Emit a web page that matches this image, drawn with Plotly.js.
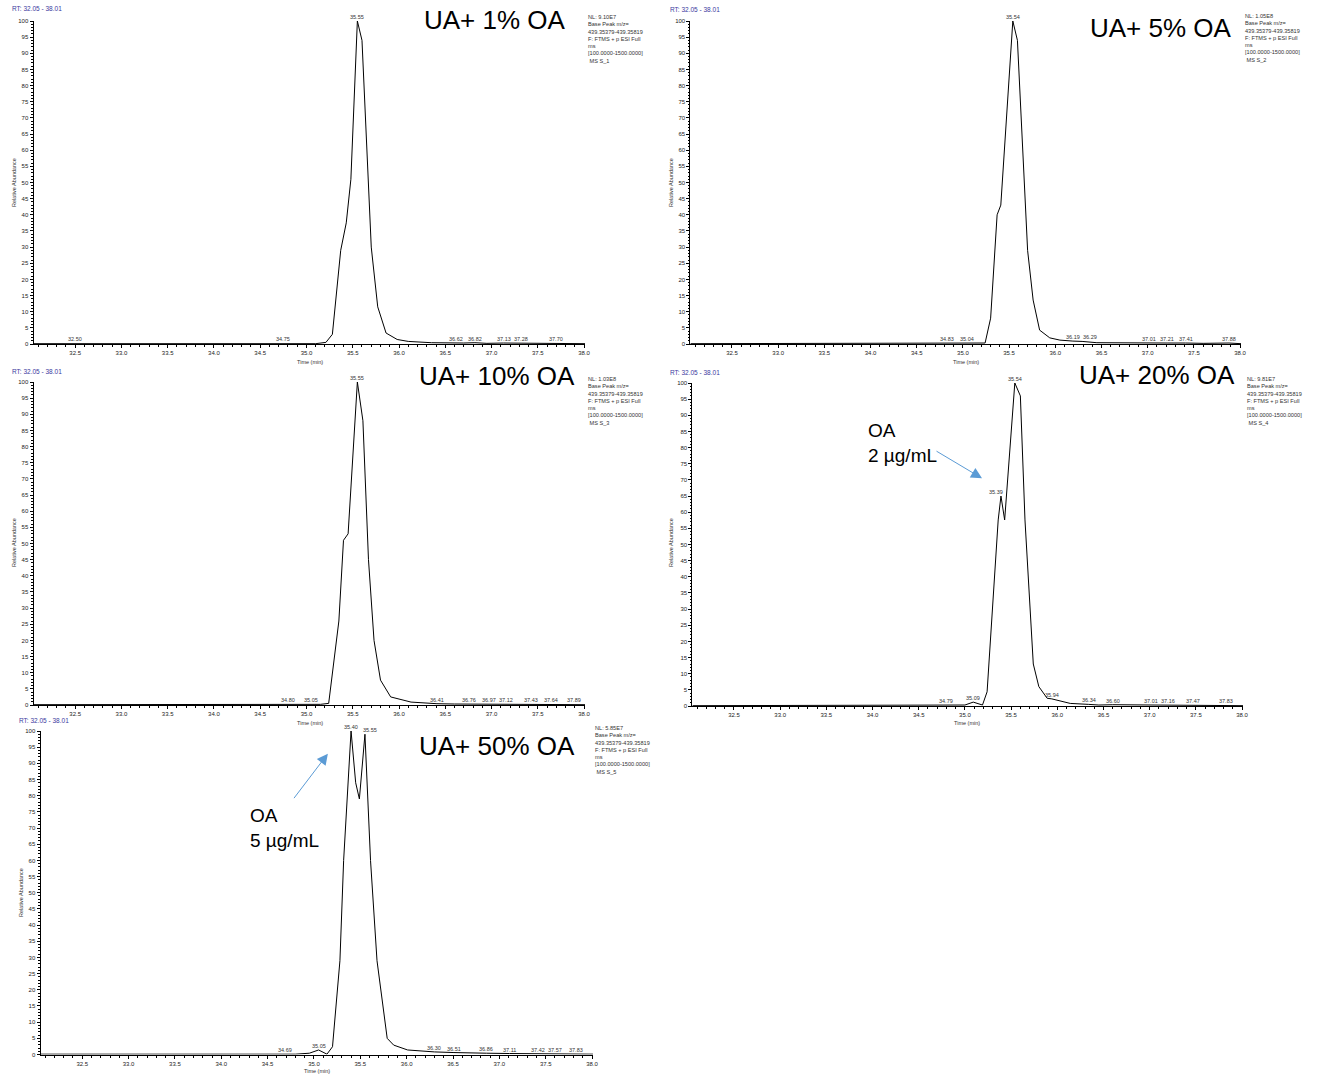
<!DOCTYPE html>
<html><head><meta charset="utf-8">
<script src="https://cdn.plot.ly/plotly-3.0.1.min.js"></script>
<style>html,body{margin:0;padding:0;background:#fff}#chart{width:1320px;height:1076px}</style>
</head><body><div id="chart"></div>
<script>
// ---------- DATA ----------
const time1 = [32.05, 32.40, 32.50, 32.60, 33.50, 34.50, 34.70, 34.75, 34.80, 35.10, 35.21, 35.28, 35.37, 35.43, 35.48, 35.55, 35.60, 35.67, 35.70, 35.77, 35.86, 35.98, 36.10, 36.35, 36.55, 36.62, 36.70, 36.82, 36.95, 37.13, 37.28, 37.45, 37.70, 37.85, 38.01];
const int1  = [0.1, 0.1, 0.3, 0.1, 0.1, 0.1, 0.1, 0.3, 0.1, 0.1, 0.5, 3, 29, 37.5, 51, 100, 94, 51, 30, 11.5, 3.4, 1.4, 0.8, 0.4, 0.3, 0.4, 0.3, 0.4, 0.2, 0.3, 0.3, 0.2, 0.3, 0.1, 0.1];

const time2 = [32.05, 34.70, 34.83, 34.95, 35.04, 35.15, 35.24, 35.30, 35.37, 35.41, 35.54, 35.59, 35.64, 35.70, 35.76, 35.83, 35.94, 36.05, 36.19, 36.29, 36.45, 36.70, 37.01, 37.21, 37.41, 37.60, 37.88, 38.01];
const int2  = [0.1, 0.1, 0.3, 0.1, 0.3, 0.1, 0.3, 8, 40, 43, 100, 94, 66, 29, 13.6, 4.3, 1.9, 1.2, 0.9, 0.8, 0.4, 0.3, 0.3, 0.3, 0.3, 0.2, 0.3, 0.1];

const time3 = [32.05, 34.70, 34.80, 34.90, 35.05, 35.15, 35.24, 35.35, 35.40, 35.45, 35.55, 35.61, 35.67, 35.73, 35.80, 35.91, 36.13, 36.41, 36.60, 36.76, 36.97, 37.12, 37.43, 37.64, 37.89, 38.01];
const int3  = [0.1, 0.1, 0.3, 0.1, 0.3, 0.2, 0.5, 26, 51, 53, 100, 88, 45, 20, 7.7, 2.5, 0.9, 0.4, 0.3, 0.3, 0.3, 0.3, 0.3, 0.3, 0.3, 0.1];

const time4 = [32.05, 34.70, 34.79, 34.90, 35.00, 35.09, 35.15, 35.19, 35.24, 35.31, 35.36, 35.39, 35.43, 35.54, 35.60, 35.65, 35.74, 35.80, 35.89, 35.94, 35.99, 36.14, 36.34, 36.45, 36.60, 37.01, 37.16, 37.47, 37.83, 38.01];
const int4  = [0.1, 0.1, 0.3, 0.1, 0.3, 1.2, 0.8, 0.3, 4.4, 37, 57.6, 65, 57.6, 100, 96, 57.6, 13, 6, 2.4, 2.2, 1.8, 0.8, 0.5, 0.3, 0.4, 0.3, 0.3, 0.3, 0.3, 0.1];

const time5 = [32.05, 34.60, 34.69, 34.80, 34.95, 35.05, 35.14, 35.20, 35.28, 35.32, 35.40, 35.45, 35.49, 35.55, 35.61, 35.68, 35.79, 35.86, 36.01, 36.22, 36.30, 36.51, 36.70, 36.86, 37.11, 37.42, 37.57, 37.83, 38.01];
const int5  = [0.1, 0.1, 0.3, 0.1, 0.4, 1.4, 0.1, 2.4, 29, 60, 100, 84, 79, 99, 60, 29, 5, 2.9, 1.4, 0.9, 0.8, 0.6, 0.4, 0.4, 0.3, 0.3, 0.3, 0.3, 0.1];

// peak retention-time labels (apex labels listed separately)
const peaks1 = [32.50, 34.75, 36.62, 36.82, 37.13, 37.28, 37.70];
const peaks2 = [34.83, 35.04, 36.19, 36.29, 37.01, 37.21, 37.41, 37.88];
const peaks3 = [34.80, 35.05, 36.41, 36.76, 36.97, 37.12, 37.43, 37.64, 37.89];
const peaks4 = [34.79, 35.09, 35.94, 36.34, 36.60, 37.01, 37.16, 37.47, 37.83];
const peaks5 = [34.69, 35.05, 36.30, 36.51, 36.86, 37.11, 37.42, 37.57, 37.83];
const apex1 = [35.55];
const apex2 = [35.54];
const apex3 = [35.55];
const apex4 = [35.39, 35.54];
const apex5 = [35.40, 35.55];

const sampleTitles = ['UA+ 1% OA', 'UA+ 5% OA', 'UA+ 10% OA', 'UA+ 20% OA', 'UA+ 50% OA'];
const nlValues = ['9.10E7', '1.05E8', '1.03E8', '9.81E7', '5.85E7'];
const sampleIds = ['MS S_1', 'MS S_2', 'MS S_3', 'MS S_4', 'MS S_5'];
const rtRange = [32.05, 38.01];
const xTicks = [32.5, 33.0, 33.5, 34.0, 34.5, 35.0, 35.5, 36.0, 36.5, 37.0, 37.5, 38.0];
const yTicks = [0, 5, 10, 15, 20, 25, 30, 35, 40, 45, 50, 55, 60, 65, 70, 75, 80, 85, 90, 95, 100];
const oaNotes = ['OA<br>2 µg/mL', 'OA<br>5 µg/mL'];

// ---------- LAYOUT ----------
const W = 1320, H = 1076;
const px = x => x / W, py = y => 1 - y / H;
const FONT = 'Liberation Sans, Arial, sans-serif';

const times = [time1, time2, time3, time4, time5];
const ints = [int1, int2, int3, int4, int5];
const peaks = [peaks1, peaks2, peaks3, peaks4, peaks5];
const apexes = [apex1, apex2, apex3, apex4, apex5];
const apexShift = [[0], [0], [0], [-5, 0], [0, 5]];

// pixel geometry of each plot area
const geom = [
  {l: 33.5, r: 585, t: 21, b: 344, title: [495, 20], info: [586, 12], rt: [10, 8], ylab: [14, 183], xlab: [310, 362]},
  {l: 690.4, r: 1241, t: 21, b: 344, title: [1161, 28], info: [1243, 11], rt: [668, 10], ylab: [671, 183], xlab: [966, 362]},
  {l: 33.5, r: 585, t: 382, b: 705, title: [497, 376], info: [586, 374], rt: [10, 371], ylab: [14, 543], xlab: [310, 723]},
  {l: 692.4, r: 1243, t: 383, b: 706, title: [1157, 375], info: [1245, 374], rt: [668, 372], ylab: [671, 543], xlab: [967, 723]},
  {l: 40.5, r: 593, t: 731, b: 1054.5, title: [497, 746], info: [593, 723], rt: [17, 720], ylab: [21, 892], xlab: [317, 1071]}
];

function interp(xs, ys, x) {
  for (let i = 0; i < xs.length - 1; i++) {
    if (x >= xs[i] && x <= xs[i + 1]) {
      const f = (x - xs[i]) / (xs[i + 1] - xs[i]);
      return ys[i] + f * (ys[i + 1] - ys[i]);
    }
  }
  return 0;
}

const data = [];
const layout = {
  width: W, height: H,
  margin: {l: 0, r: 0, t: 0, b: 0},
  paper_bgcolor: '#fff', plot_bgcolor: 'rgba(0,0,0,0)',
  showlegend: false,
  font: {family: FONT, color: '#000'},
  annotations: []
};

geom.forEach((g, i) => {
  const n = i === 0 ? '' : String(i + 1);
  data.push({
    type: 'scatter', mode: 'lines',
    x: times[i], y: ints[i],
    xaxis: 'x' + n, yaxis: 'y' + n,
    line: {color: '#000', width: 1},
    hoverinfo: 'skip'
  });
  layout['xaxis' + n] = {
    domain: [px(g.l), px(g.r)], range: rtRange, anchor: 'y' + n,
    showline: true, linecolor: '#000', linewidth: 1,
    ticks: 'outside', ticklen: 3, tickwidth: 1, tickcolor: '#000',
    tickmode: 'array', tickvals: xTicks, ticktext: xTicks.map(v => v.toFixed(1)),
    tickfont: {size: 6, color: '#222', family: FONT},
    showgrid: false, zeroline: false, fixedrange: true,
    minor: {dtick: 0.1, tick0: 32.0, ticks: 'outside', ticklen: 2, tickcolor: '#000', showgrid: false}
  };
  layout['yaxis' + n] = {
    domain: [py(g.b), py(g.t)], range: [0, 100], anchor: 'x' + n,
    showline: true, linecolor: '#000', linewidth: 1,
    ticks: 'outside', ticklen: 3, tickwidth: 1, tickcolor: '#000',
    tickmode: 'array', tickvals: yTicks,
    tickfont: {size: 6, color: '#222', family: FONT},
    showgrid: false, zeroline: false, fixedrange: true,
    minor: {dtick: 1, ticks: 'outside', ticklen: 1.5, tickcolor: '#000', showgrid: false}
  };
  const A = layout.annotations;
  A.push({xref: 'paper', yref: 'paper', x: px(g.title[0]), y: py(g.title[1]), xanchor: 'center', yanchor: 'middle',
    text: sampleTitles[i], showarrow: false, font: {size: 26, color: '#000', family: FONT}});
  A.push({xref: 'paper', yref: 'paper', x: px(g.info[0]), y: py(g.info[1]), xanchor: 'left', yanchor: 'top', align: 'left',
    text: 'NL: ' + nlValues[i] + '<br>Base Peak m/z=<br>439.35379-439.35819<br>F: FTMS + p ESI Full<br>ms<br>[100.0000-1500.0000]<br> ' + sampleIds[i],
    showarrow: false, font: {size: 5.6, color: '#333', family: FONT}});
  A.push({xref: 'paper', yref: 'paper', x: px(g.rt[0]), y: py(g.rt[1]), xanchor: 'left', yanchor: 'middle',
    text: 'RT: ' + rtRange[0].toFixed(2) + ' - ' + rtRange[1].toFixed(2), showarrow: false,
    font: {size: 6.5, color: '#3a3a9e', family: FONT}});
  A.push({xref: 'paper', yref: 'paper', x: px(g.ylab[0]), y: py(g.ylab[1]), xanchor: 'center', yanchor: 'middle',
    text: 'Relative Abundance', textangle: -90, showarrow: false, font: {size: 5.5, color: '#333', family: FONT}});
  A.push({xref: 'paper', yref: 'paper', x: px(g.xlab[0]), y: py(g.xlab[1]), xanchor: 'center', yanchor: 'middle',
    text: 'Time (min)', showarrow: false, font: {size: 5.5, color: '#333', family: FONT}});

  // baseline peak labels, pushed apart so they do not overlap (as the instrument software does)
  const pxPerMin = (g.r - g.l) / (rtRange[1] - rtRange[0]);
  let prev = -1e9;
  peaks[i].forEach(p => {
    const natural = g.l + (p - rtRange[0]) * pxPerMin;
    const pos = Math.max(natural, prev + 17);
    prev = pos;
    A.push({xref: 'x' + n, yref: 'y' + n, x: p, y: interp(times[i], ints[i], p), xanchor: 'center', yanchor: 'bottom',
      xshift: pos - natural, text: p.toFixed(2), showarrow: false, borderpad: 0,
      font: {size: 5.5, color: '#333', family: FONT}});
  });
  apexes[i].forEach((p, k) => {
    A.push({xref: 'x' + n, yref: 'y' + n, x: p, y: interp(times[i], ints[i], p), xanchor: 'center', yanchor: 'bottom',
      xshift: apexShift[i][k], text: p.toFixed(2), showarrow: false, borderpad: 0,
      font: {size: 5.5, color: '#333', family: FONT}});
  });
});

// OA annotations with blue arrows
const A = layout.annotations;
A.push({xref: 'paper', yref: 'paper', x: px(866), y: py(418), xanchor: 'left', yanchor: 'top', align: 'left',
  text: oaNotes[0], showarrow: false, font: {size: 19, color: '#000', family: FONT}});
A.push({xref: 'x4', yref: 'y4', x: 35.185, y: 70.5, ax: -47, ay: -28, axref: 'pixel', ayref: 'pixel', text: '',
  showarrow: true, arrowhead: 2, arrowsize: 2.2, arrowwidth: 1, arrowcolor: '#5b9bd5'});
A.push({xref: 'paper', yref: 'paper', x: px(248), y: py(803), xanchor: 'left', yanchor: 'top', align: 'left',
  text: oaNotes[1], showarrow: false, font: {size: 19, color: '#000', family: FONT}});
A.push({xref: 'x5', yref: 'y5', x: 35.15, y: 93, ax: -35, ay: 46, axref: 'pixel', ayref: 'pixel', text: '',
  showarrow: true, arrowhead: 2, arrowsize: 2.2, arrowwidth: 1, arrowcolor: '#5b9bd5'});

Plotly.newPlot('chart', data, layout, {staticPlot: true, displayModeBar: false});
</script></body></html>
